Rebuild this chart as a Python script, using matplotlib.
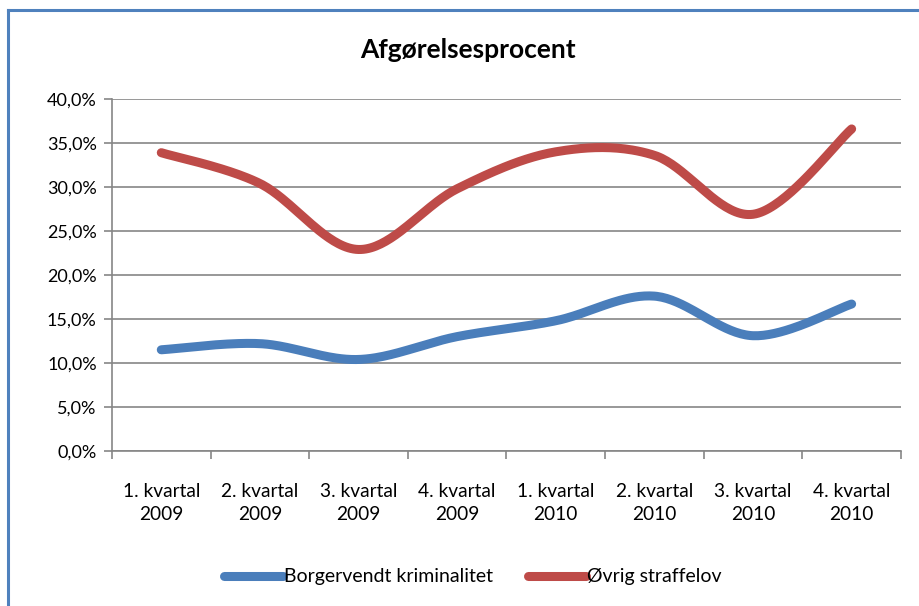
import numpy as np
import matplotlib
matplotlib.use("Agg")
import matplotlib.pyplot as plt
from matplotlib.lines import Line2D

plt.rcParams['font.family'] = ['Lato', 'DejaVu Sans']

# data
quarters = ['1. kvartal\n2009', '2. kvartal\n2009', '3. kvartal\n2009', '4. kvartal\n2009',
            '1. kvartal\n2010', '2. kvartal\n2010', '3. kvartal\n2010', '4. kvartal\n2010']
borgervendt = [11.5, 12.2, 10.4, 13.0, 14.8, 17.6, 13.1, 16.7]
ovrig = [33.9, 30.4, 22.9, 29.8, 34.0, 33.6, 26.9, 36.6]

blue = '#4A7EBB'
red = '#BE4B48'
grid_col = '#868686'


def smooth(ys, n=40):
    # Catmull-Rom style smoothing, like Excel's "smoothed line"
    xs = np.arange(len(ys), dtype=float)
    ys = np.asarray(ys, dtype=float)
    px = np.concatenate([[xs[0]], xs, [xs[-1]]])
    py = np.concatenate([[ys[0]], ys, [ys[-1]]])
    outx, outy = [], []
    for i in range(1, len(px) - 2):
        t = np.linspace(0, 1, n, endpoint=False)
        for p, out in ((px, outx), (py, outy)):
            p0, p1, p2, p3 = p[i - 1], p[i], p[i + 1], p[i + 2]
            c1 = p1 + (p2 - p0) / 6
            c2 = p2 - (p3 - p1) / 6
            out.extend((1 - t) ** 3 * p1 + 3 * (1 - t) ** 2 * t * c1
                       + 3 * (1 - t) * t ** 2 * c2 + t ** 3 * p2)
    outx.append(xs[-1])
    outy.append(ys[-1])
    return np.array(outx), np.array(outy)


fig = plt.figure(figsize=(9.2, 6.06), dpi=100)
ax = fig.add_axes([0.1217, 0.2558, 0.8576, 0.5808])

for vals, col, name in ((borgervendt, blue, 'Borgervendt kriminalitet'),
                        (ovrig, red, 'Øvrig straffelov')):
    sx, sy = smooth(vals)
    ax.plot(sx, sy, color=col, lw=6.5, solid_capstyle='round', label=name)

ax.set_xlim(-0.5, len(quarters) - 0.5)
ax.set_ylim(0, 40)
ax.set_yticks(np.arange(0, 41, 5))
ax.set_yticklabels([f'{v:.1f}%'.replace('.', ',') for v in np.arange(0, 41, 5)])
ax.set_xticks(range(len(quarters)))
ax.set_xticklabels(quarters, linespacing=1.45)
ax.set_xticks(np.arange(-0.5, len(quarters), 1), minor=True)
ax.tick_params(axis='x', which='major', length=0, pad=23, labelsize=13.8)
ax.tick_params(axis='x', which='minor', length=6, color=grid_col, width=1.2)
ax.tick_params(axis='y', length=6, color=grid_col, width=1.2, labelsize=13, pad=5)

ax.yaxis.grid(True, color=grid_col, lw=1.2)
ax.set_axisbelow(True)
for s in ('top', 'right'):
    ax.spines[s].set_visible(False)
for s in ('left', 'bottom'):
    ax.spines[s].set_color(grid_col)
    ax.spines[s].set_linewidth(1.2)

fig.text(0.509, 0.917, 'Afgørelsesprocent', ha='center', va='center',
         fontsize=19, fontweight='bold')

fig.legend(loc='center', bbox_to_anchor=(0.514, 0.048), ncol=2, frameon=False,
           fontsize=14, handlelength=3.0, handletextpad=0.05, columnspacing=1.8)

# chart border (left and top edges visible)
fig.add_artist(Line2D([0.0092, 0.0092], [0, 0.9835], color='#4F81BD', lw=2.2,
                      transform=fig.transFigure))
fig.add_artist(Line2D([0.0092, 1.0], [0.9835, 0.9835], color='#4F81BD', lw=2.2,
                      transform=fig.transFigure))

fig.savefig('out.png', dpi=100)
